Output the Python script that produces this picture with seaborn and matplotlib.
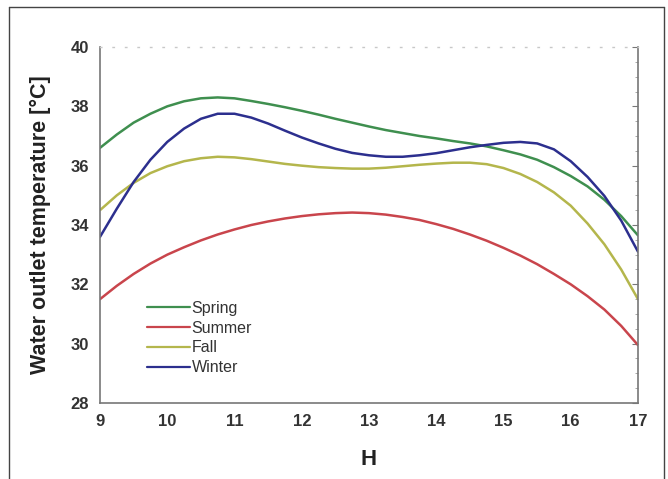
import numpy as np
import pandas as pd
import matplotlib
matplotlib.use("Agg")
import matplotlib.pyplot as plt
import seaborn as sns
from matplotlib.lines import Line2D

hours = [9, 9.25, 9.5, 9.75, 10, 10.25, 10.5, 10.75, 11, 11.25, 11.5, 11.75,
         12, 12.25, 12.5, 12.75, 13, 13.25, 13.5, 13.75, 14, 14.25, 14.5, 14.75,
         15, 15.25, 15.5, 15.75, 16, 16.25, 16.5, 16.75, 17]
spring = [36.6, 37.05, 37.45, 37.75, 38.0, 38.17, 38.27, 38.3, 38.27, 38.18, 38.08, 37.97,
          37.85, 37.72, 37.58, 37.45, 37.32, 37.2, 37.1, 37.0, 36.92, 36.83, 36.75, 36.65,
          36.52, 36.38, 36.2, 35.95, 35.65, 35.3, 34.85, 34.3, 33.65]
summer = [31.5, 31.95, 32.35, 32.7, 33.0, 33.25, 33.48, 33.68, 33.85, 34.0, 34.12, 34.22,
          34.3, 34.36, 34.4, 34.42, 34.4, 34.35, 34.27, 34.17, 34.03, 33.87, 33.68, 33.47,
          33.23, 32.97, 32.68, 32.35, 32.0, 31.6, 31.15, 30.6, 29.95]
fall = [34.5, 35.0, 35.42, 35.75, 35.98, 36.15, 36.25, 36.3, 36.28, 36.22, 36.14, 36.06,
        36.0, 35.95, 35.92, 35.9, 35.9, 35.93, 35.98, 36.03, 36.07, 36.1, 36.1, 36.05,
        35.92, 35.72, 35.45, 35.1, 34.65, 34.05, 33.35, 32.5, 31.5]
winter = [33.6, 34.55, 35.45, 36.2, 36.8, 37.25, 37.58, 37.75, 37.75, 37.62, 37.42, 37.18,
          36.95, 36.75, 36.57, 36.43, 36.35, 36.3, 36.3, 36.35, 36.42, 36.52, 36.62, 36.7,
          36.77, 36.8, 36.75, 36.55, 36.15, 35.62, 34.98, 34.15, 33.1]

seasons = ["Spring", "Summer", "Fall", "Winter"]
colors = {"Spring": "#3f8f4f", "Summer": "#c9454c", "Fall": "#b4b64c", "Winter": "#2c2f8e"}

df = pd.concat([
    pd.DataFrame({"H": hours, "T": vals, "Season": name})
    for name, vals in zip(seasons, [spring, summer, fall, winter])
])

sns.set_style("white")
plt.rcParams["font.family"] = ["Liberation Sans", "DejaVu Sans"]

fig = plt.figure(figsize=(6.68, 4.79), dpi=100)
ax = fig.add_axes([100/668, 1-403/479, (638-100)/668, (403-47)/479])

sns.lineplot(data=df, x="H", y="T", hue="Season", hue_order=seasons,
             palette=colors, linewidth=1.8, ax=ax, legend=False)

ax.set_xlim(9, 17)
ax.set_ylim(28, 40)
ax.set_xticks(range(9, 18))
ax.set_yticks(range(28, 41, 2))
ax.set_xticks(np.arange(9, 17.01, 0.25), minor=True)
ax.set_yticks(np.arange(28, 40.01, 0.5), minor=True)
ax.tick_params(axis="both", which="major", direction="in", length=4, width=0.8,
               color="#777777", labelsize=12, labelcolor="#333333", pad=8,
               right=True)
ax.tick_params(axis="both", which="minor", direction="in", length=2, width=0.6,
               color="#999999", right=True)
for lab in ax.get_xticklabels() + ax.get_yticklabels():
    lab.set_fontweight("bold")

ax.set_xlabel("H", fontsize=16, fontweight="bold", color="#222222", labelpad=14)
ax.set_ylabel("Water outlet temperature [°C]", fontsize=15.5, fontweight="bold",
              color="#222222", labelpad=14)

for side in ["left", "bottom", "right"]:
    ax.spines[side].set_color("#777777")
    ax.spines[side].set_linewidth(1.2)
ax.spines["top"].set_visible(True)
ax.spines["top"].set_color("#c8c8c8")
ax.spines["top"].set_linestyle((0, (1, 8)))
ax.spines["top"].set_linewidth(1.0)

handles = [Line2D([0], [0], color=colors[s], linewidth=1.6) for s in seasons]
leg = ax.legend(handles, seasons, loc="upper left", bbox_to_anchor=(0.075, 0.305),
                frameon=False, fontsize=11.5, handlelength=2.7, handletextpad=0.1,
                labelspacing=0.3, borderaxespad=0)
for t in leg.get_texts():
    t.set_color("#333333")

# outer figure frame
fig.add_artist(Line2D([9/668, 9/668], [0, 1-7/479], transform=fig.transFigure, color="#444444", lw=1.0))
fig.add_artist(Line2D([9/668, 664/668], [1-7/479, 1-7/479], transform=fig.transFigure, color="#444444", lw=1.0))
fig.add_artist(Line2D([664/668, 664/668], [0, 1-7/479], transform=fig.transFigure, color="#444444", lw=1.0))

fig.savefig("out.png", dpi=100)
